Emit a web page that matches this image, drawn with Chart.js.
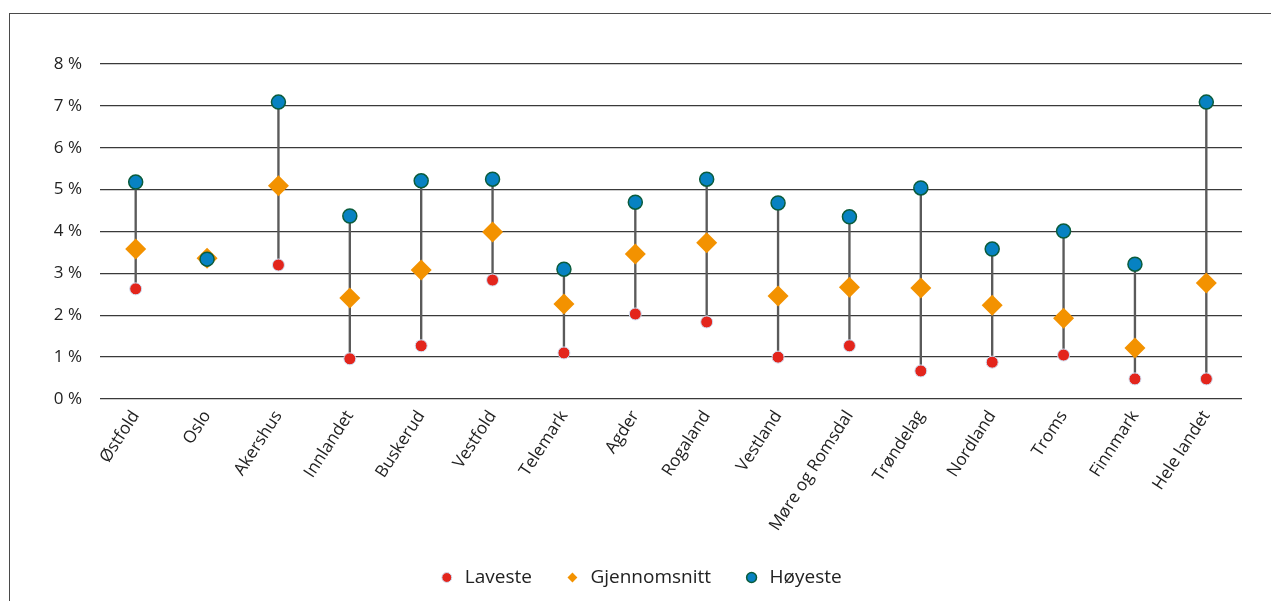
<!DOCTYPE html>
<html>
<head>
<meta charset="utf-8">
<script src="https://cdn.jsdelivr.net/npm/chart.js@4/dist/chart.umd.min.js"></script>
<style>
  html, body { margin: 0; padding: 0; background: #fff; overflow: hidden; }
  .frame {
    position: absolute; left: 9px; top: 13px; width: 1270px; height: 600px;
    border-top: 1.5px solid #4a4a4a; border-left: 1.5px solid #4a4a4a;
  }
  .chart-wrap { position: absolute; left: 0; top: 0; width: 1271px; height: 601px; }
</style>
</head>
<body>
<div class="frame"></div>
<div class="chart-wrap"><canvas id="chart"></canvas></div>
<script>
const regions = ['Østfold', 'Oslo', 'Akershus', 'Innlandet', 'Buskerud', 'Vestfold', 'Telemark', 'Agder',
  'Rogaland', 'Vestland', 'Møre og Romsdal', 'Trøndelag', 'Nordland', 'Troms', 'Finnmark', 'Hele landet'];
const laveste = [2.63, 3.34, 3.20, 0.96, 1.27, 2.84, 1.10, 2.03, 1.84, 1.00, 1.27, 0.67, 0.88, 1.05, 0.48, 0.48];
const gjennomsnitt = [3.58, 3.36, 5.09, 2.41, 3.08, 3.99, 2.27, 3.46, 3.73, 2.46, 2.67, 2.65, 2.24, 1.93, 1.22, 2.77];
const hoyeste = [5.18, 3.34, 7.09, 4.37, 5.21, 5.25, 3.10, 4.70, 5.25, 4.68, 4.35, 5.04, 3.58, 4.01, 3.22, 7.09];
const yTicks = [0, 1, 2, 3, 4, 5, 6, 7, 8];

const fontFamily = '"Open Sans", "Noto Sans", sans-serif';
const legendRank = { 'Laveste': 0, 'Gjennomsnitt': 1, 'Høyeste': 2 };

const ranges = laveste.map((lo, i) => [lo, hoyeste[i]]);

// legend sits centred on the whole page, not on the plot area
const shiftLegend = {
  id: 'shiftLegend',
  afterLayout(chart) {
    if (chart.legend) {
      chart.legend.left += 19;
      chart.legend.right += 19;
    }
  }
};

const ctx = document.getElementById('chart');
new Chart(ctx, {
  type: 'bar',
  data: {
    labels: regions,
    datasets: [
      {
        label: 'range',
        type: 'bar',
        data: ranges,
        backgroundColor: '#5a5a5a',
        barThickness: 1.7,
        order: 4
      },
      {
        label: 'Laveste',
        type: 'line',
        data: laveste,
        showLine: false,
        pointStyle: 'circle',
        pointRadius: 6,
        pointBackgroundColor: '#e3251c',
        pointBorderColor: '#cfe0f4',
        pointBorderWidth: 1,
        backgroundColor: '#e3251c',
        borderColor: '#e3251c',
        order: 3
      },
      {
        label: 'Gjennomsnitt',
        type: 'line',
        data: gjennomsnitt,
        showLine: false,
        pointStyle: 'rectRot',
        pointRadius: 10.5,
        pointBackgroundColor: '#f39200',
        pointBorderColor: '#f39200',
        pointBorderWidth: 0,
        backgroundColor: '#f39200',
        borderColor: '#f39200',
        order: 2
      },
      {
        label: 'Høyeste',
        type: 'line',
        data: hoyeste,
        showLine: false,
        pointStyle: 'circle',
        pointRadius: 7,
        pointBackgroundColor: '#0782c2',
        pointBorderColor: '#0b5c3c',
        pointBorderWidth: 1.5,
        backgroundColor: '#0782c2',
        borderColor: '#0b5c3c',
        order: 1
      }
    ]
  },
  options: {
    responsive: true,
    maintainAspectRatio: false,
    animation: false,
    layout: { padding: { left: 0, right: 29, top: 64, bottom: 4 } },
    plugins: {
      tooltip: { enabled: false },
      legend: {
        position: 'bottom',
        labels: {
          usePointStyle: true,
          boxHeight: 7,
          boxWidth: 17,
          padding: 32,
          color: '#222',
          font: { family: fontFamily, size: 19 },
          filter: item => item.text !== 'range',
          sort: (a, b) => legendRank[a.text] - legendRank[b.text]
        }
      }
    },
    scales: {
      x: {
        offset: true,
        grid: { display: false },
        border: { display: false },
        ticks: {
          color: '#222',
          font: { family: fontFamily, size: 17 },
          minRotation: 57,
          maxRotation: 57,
          autoSkip: false,
          padding: 0
        },
        afterFit: scale => { scale.height = 137; }
      },
      y: {
        min: 0,
        max: 8,
        afterBuildTicks: scale => { scale.ticks = yTicks.map(v => ({ value: v })); },
        grid: { color: '#3a3a3a', lineWidth: 1.3, drawTicks: false },
        border: { display: false },
        ticks: {
          color: '#222',
          font: { family: fontFamily, size: 17 },
          padding: 18,
          callback: v => v + ' %'
        },
        afterFit: scale => { scale.width = 100; }
      }
    }
  },
  plugins: [shiftLegend]
});
</script>
</body>
</html>
